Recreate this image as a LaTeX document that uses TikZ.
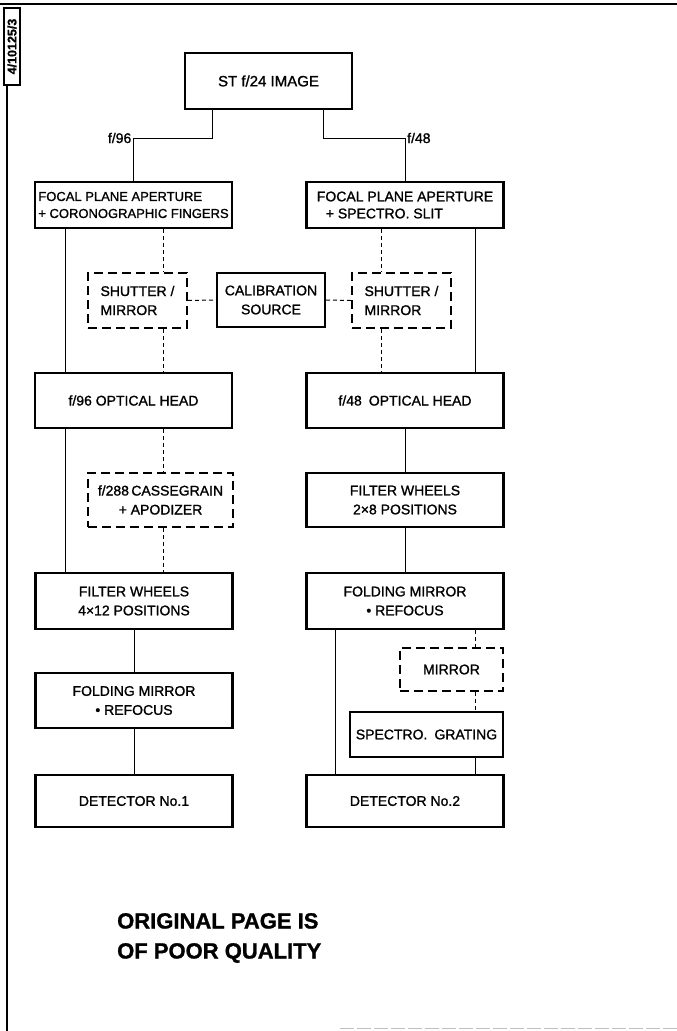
\documentclass[tikz,border=0pt]{standalone}
\usepackage{fontspec}
\setmainfont{Liberation Sans}[FakeBold=1.2]
\begin{document}
\begin{tikzpicture}[x=1pt, y=-1pt,
    box/.style={rectangle, draw, line width=2.2pt, fill=white, minimum width=197pt, minimum height=55pt, inner sep=2pt, align=center, font=\fontsize{14}{19}\selectfont},
    dbox/.style={box, line width=2pt, dash pattern=on 9pt off 5pt},
    lbl/.style={inner sep=2pt, font=\fontsize{14}{16}\selectfont},
    link/.style={line width=1pt},
    dlink/.style={line width=1pt, dash pattern=on 4pt off 3pt}
]
\fill[white] (0,0) rectangle (677,1031);
\useasboundingbox (0,0) rectangle (677,1031);

% Frame and tag
\node[draw, line width=1.5pt, rotate=90, minimum width=77pt, minimum height=16pt, inner sep=1pt, font=\bfseries\fontsize{12.5}{13}\selectfont] (tag) at (12,46.5) {4/10125/3};
\draw[line width=2.5pt] (0,4) -- (677,4);
\draw[line width=1.8pt] (7,85) -- (7,1031);
\draw[gray!50, line width=0.8pt, dash pattern=on 14pt off 3pt] (340,1028) -- (677,1028);

% Input
\node[box, minimum width=167pt, minimum height=56pt, font=\fontsize{15}{19}\selectfont] (img) at (268.5,81) {ST f/24 IMAGE};
\node[lbl, anchor=east] (l96) at (133.5,138) {f/96};
\node[lbl, anchor=west] (l48) at (405,138) {f/48};

% Focal plane
\node[box, minimum height=46pt, align=left, font=\fontsize{13}{17}\selectfont] (fpl) at (133.5,205) {FOCAL PLANE APERTURE\\+ CORONOGRAPHIC FINGERS};
\node[box, minimum height=46pt, align=left, font=\fontsize{14}{17}\selectfont] (fpr) at (405,205) {FOCAL PLANE APERTURE\\\hspace*{9pt}+ SPECTRO. SLIT};

% Shutters and calibration
\node[dbox, minimum width=99pt, align=left] (shl) at (137.5,300.5) {SHUTTER /\\MIRROR};
\node[box, minimum width=108pt, minimum height=54pt, line width=2pt] (cal) at (271,300) {CALIBRATION\\SOURCE};
\node[dbox, minimum width=99pt, align=left] (shr) at (401.5,300.5) {SHUTTER /\\MIRROR};

% Optical heads
\node[box] (ohl) at (133.5,400.5) {f/96 OPTICAL HEAD};
\node[box] (ohr) at (405,400.5) {f/48\enspace OPTICAL HEAD};

% Cassegrain and filters
\node[dbox, minimum width=145pt, minimum height=54pt] (cas) at (160.5,500) {f/288\,CASSEGRAIN\\+ APODIZER};
\node[box, minimum height=54pt] (fwr) at (405,500) {FILTER WHEELS\\2×8 POSITIONS};
\node[box, minimum height=56pt] (fwl) at (134,601) {FILTER WHEELS\\4×12 POSITIONS};
\node[box, minimum height=56pt] (fmr) at (405,601) {FOLDING MIRROR\\• REFOCUS};

% Lower stages
\node[box] (fml) at (134,700.5) {FOLDING MIRROR\\• REFOCUS};
\node[dbox, minimum width=103pt, minimum height=43pt] (mir) at (451.5,669.5) {MIRROR};
\node[box, minimum width=153pt, minimum height=45pt] (grt) at (426.5,734.5) {SPECTRO.\enspace GRATING};

% Detectors
\node[box, minimum height=52pt] (dtl) at (134,801) {DETECTOR No.1};
\node[box, minimum height=52pt] (dtr) at (405,801) {DETECTOR No.2};

% Stamp
\node[anchor=west, align=left, inner sep=0pt, font=\bfseries\fontsize{22}{30}\selectfont] (stamp) at (117,938) {ORIGINAL PAGE IS\\OF POOR QUALITY};

% Columns of the connectors
\coordinate (xa) at (65,0);
\coordinate (xb) at (163,0);
\coordinate (xc) at (381,0);
\coordinate (xd) at (475,0);
\coordinate (xe) at (335,0);

% Connections
\draw[link] ([xshift=-56.5pt]img.south) |- (fpl.north |- l96.east) -- (fpl.north);
\draw[link] ([xshift=54.5pt]img.south) |- (fpr.north |- l48.west) -- (fpr.north);

\draw[link] (fpl.south -| xa) -- (ohl.north -| xa);
\draw[link] (ohl.south -| xa) -- (fwl.north -| xa);
\draw[dlink] (fpl.south -| xb) -- (shl.north -| xb);
\draw[dlink] (shl.south -| xb) -- (ohl.north -| xb);
\draw[dlink] (ohl.south -| xb) -- (cas.north -| xb);
\draw[dlink] (cas.south -| xb) -- (fwl.north -| xb);
\draw[link] (fwl) -- (fml);
\draw[link] (fml) -- (dtl);

\draw[dlink] (shl.east) -- (cal.west);
\draw[dlink] (cal.east) -- (shr.west);

\draw[dlink] (fpr.south -| xc) -- (shr.north -| xc);
\draw[dlink] (shr.south -| xc) -- (ohr.north -| xc);
\draw[link] (fpr.south -| xd) -- (ohr.north -| xd);
\draw[link] (ohr) -- (fwr);
\draw[link] (fwr) -- (fmr);
\draw[link] (fmr.south -| xe) -- (dtr.north -| xe);
\draw[dlink] (fmr.south -| xd) -- (mir.north -| xd);
\draw[dlink] (mir.south -| xd) -- (grt.north -| xd);
\draw[link] (grt.south -| xd) -- (dtr.north -| xd);
\end{tikzpicture}
\end{document}
